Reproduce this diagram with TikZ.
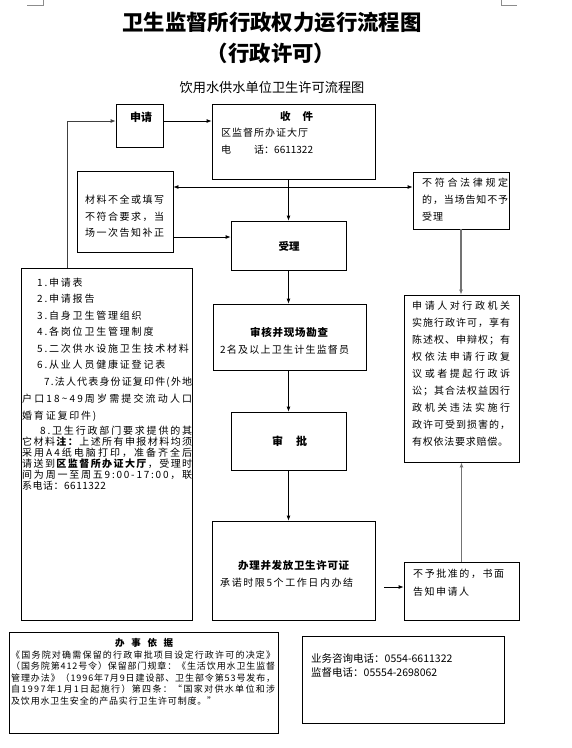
\documentclass[tikz,border=0pt]{standalone}
\usepackage{fontspec}
\setmainfont{Noto Sans CJK SC}
\usetikzlibrary{arrows.meta}
\newskip\sprgap
\def\spr#1{\sprA#1\relax}
\def\sprA#1{#1\sprB}
\def\sprB#1{%
  \ifx\relax#1\let\sprN\relax\else
    \ifx\bfseries#1\bfseries\else\ifx\mdseries#1\mdseries\else\hskip\sprgap#1\fi\fi
    \let\sprN\sprB
  \fi\sprN}
\newcommand\jl[2]{\hbox to #1{\sprgap=0pt plus 1fil\relax\spr{#2}}}
\newcommand\lsp[2]{\hbox{\sprgap=#1\relax\spr{#2}}}
\tikzset{
  box/.style={draw, line width=0.8pt, inner sep=0pt},
  txt/.style={inner sep=0pt, anchor=west},
  fa/.style={font=\fontsize{10}{12}\selectfont},
  fb/.style={font=\fontsize{10.5}{12}\selectfont\bfseries},
  fs/.style={font=\fontsize{9}{11}\selectfont},
  arr/.style={-{Latex[length=5pt,width=4pt]}, line width=0.8pt},
  arrtwo/.style={{Latex[length=5pt,width=4pt]}-{Latex[length=5pt,width=4pt]}, line width=0.8pt},
  garr/.style={-{Latex[length=5pt,width=4pt]}, line width=1.2pt, draw=black!55},
}
\begin{document}
\begin{tikzpicture}[x=1pt,y=-1pt]
\useasboundingbox (0,0) rectangle (572,748);
% page corner marks
\draw[black!45, line width=0.5pt] (27,5) -- (43,5) -- (43,0);
\draw[black!45, line width=0.5pt] (501,0) -- (501,5) -- (517,5);
% titles
\node[inner sep=0pt, font=\fontsize{21.4}{24}\selectfont\bfseries] (t1) at (272,22) {卫生监督所行政权力运行流程图};
\node[inner sep=0pt, font=\fontsize{21.4}{24}\selectfont\bfseries] (t2) at (271,53) {（行政许可）};
\node[inner sep=0pt, font=\fontsize{13.2}{15}\selectfont] (t3) at (272,87) {饮用水供水单位卫生许可流程图};
% boxes
\node[box, minimum width=47pt, minimum height=43pt] (sq) at (139.5,125.5) {};
\node[box, minimum width=163pt, minimum height=75pt] (sj) at (293.5,141.5) {};
\node[box, minimum width=96pt, minimum height=81pt] (cl) at (125,211.5) {};
\node[box, minimum width=115pt, minimum height=49pt] (sl) at (288.5,245.5) {};
\node[box, minimum width=96pt, minimum height=57pt] (bf) at (461,200.5) {};
\node[box, minimum width=153pt, minimum height=66pt] (sh) at (289.5,337) {};
\node[box, minimum width=115pt, minimum height=58pt] (sp) at (288.5,441) {};
\node[box, minimum width=163pt, minimum height=99pt] (bl) at (293.5,570.5) {};
\node[box, minimum width=115pt, minimum height=58pt] (by) at (461.5,591) {};
\node[box, minimum width=115pt, minimum height=167pt] (sr) at (461.5,378.5) {};
\node[box, minimum width=171pt, minimum height=352pt] (ls) at (106.5,444) {};
\node[box, minimum width=269pt, minimum height=101pt] (yj) at (143.5,682.5) {};
\node[box, minimum width=202pt, minimum height=87pt] (ph) at (403,679.5) {};
% texts: 申请
\node[txt, font=\fontsize{11}{12}\selectfont\bfseries] (tsq) at (130,117) {申请};
% 收件
\node[txt, fb] (tsj1) at (280,117) {\jl{33pt}{收件}};
\node[txt, fa] (tsj2) at (221,133) {\jl{87pt}{区监督所办证大厅}};
\node[txt, fa] (tsj3) at (221,150) {电\hspace{23pt}话：6611322};
% 材料
\node[txt, fa] (tcl1) at (85,200) {\jl{79pt}{材料不全或填写}};
\node[txt, fa] (tcl2) at (85,217) {\jl{79pt}{不符合要求，当}};
\node[txt, fa] (tcl3) at (85,233) {\jl{79pt}{场一次告知补正}};
% 受理
\node[inner sep=0pt, fb] (tsl) at (289,246) {受理};
% 不符合
\node[txt, fa] (tbf1) at (422,183) {\jl{86pt}{不符合法律规定}};
\node[txt, fa] (tbf2) at (422,200) {\jl{86pt}{的，当场告知不予}};
\node[txt, fa] (tbf3) at (422,217) {\lsp{1pt}{受理}};
% 审核
\node[txt, fb] (tsh1) at (250,332) {\jl{78pt}{审核并现场勘查}};
\node[txt, fa] (tsh2) at (220,350) {\jl{129pt}{2名及以上卫生计生监督员}};
% 审批
\node[txt, font=\fontsize{11}{12}\selectfont\bfseries] (tsp) at (272,441) {\jl{35pt}{审批}};
% 办理
\node[txt, fb] (tbl1) at (238,566) {\jl{111pt}{办理并发放卫生许可证}};
\node[txt, fa] (tbl2) at (220,583) {\jl{133pt}{承诺时限5个工作日内办结}};
% 不予批准
\node[txt, fa] (tby1) at (413,574) {\jl{91pt}{不予批准的，书面}};
\node[txt, fa] (tby2) at (413,592) {\jl{56pt}{告知申请人}};
% 申请人
\node[txt, fa] (tsr1) at (412,306) {\jl{98pt}{申请人对行政机关}};
\node[txt, fa] (tsr2) at (412,323) {\jl{98pt}{实施行政许可，享有}};
\node[txt, fa] (tsr3) at (412,340) {\jl{98pt}{陈述权、申辩权；有}};
\node[txt, fa] (tsr4) at (412,357) {\jl{98pt}{权依法申请行政复}};
\node[txt, fa] (tsr5) at (412,374) {\jl{98pt}{议或者提起行政诉}};
\node[txt, fa] (tsr6) at (412,391) {\jl{98pt}{讼；其合法权益因行}};
\node[txt, fa] (tsr7) at (412,408) {\jl{98pt}{政机关违法实施行}};
\node[txt, fa] (tsr8) at (412,425) {\jl{98pt}{政许可受到损害的，}};
\node[txt, fa] (tsr9) at (412,442) {\jl{96pt}{有权依法要求赔偿。}};
% list
\node[txt, fa] (tl1) at (37,283) {\lsp{1.8pt}{1.申请表}};
\node[txt, fa] (tl2) at (37,299) {\lsp{1.8pt}{2.申请报告}};
\node[txt, fa] (tl3) at (37,316) {\lsp{1.8pt}{3.自身卫生管理组织}};
\node[txt, fa] (tl4) at (37,332) {\lsp{1.8pt}{4.各岗位卫生管理制度}};
\node[txt, fa] (tl5) at (37,349) {\lsp{1.8pt}{5.二次供水设施卫生技术材料}};
\node[txt, fa] (tl6) at (37,365) {\lsp{1.8pt}{6.从业人员健康证登记表}};
\node[txt, fa] (tl7) at (44,382) {\jl{148pt}{7.法人代表身份证复印件(外地}};
\node[txt, fa] (tl8) at (22,399) {\jl{170pt}{户口18\textasciitilde 49周岁需提交流动人口}};
\node[txt, fa] (tl9) at (22,416) {\lsp{1.8pt}{婚育证复印件)}};
\node[txt, fa] (tl10) at (40,431) {\jl{152pt}{8.卫生行政部门要求提供的其}};
\node[txt, fa] (tl11) at (22,442) {\jl{170pt}{它材料\bfseries 注：\mdseries 上述所有申报材料均须}};
\node[txt, fa] (tl12) at (22,453) {\jl{170pt}{采用A4纸电脑打印，准备齐全后}};
\node[txt, fa] (tl13) at (22,464) {\jl{170pt}{请送到\bfseries 区监督所办证大厅\mdseries ，受理时}};
\node[txt, fa] (tl14) at (22,475) {\jl{170pt}{间为周一至周五9:00-17:00，联}};
\node[txt, fa] (tl15) at (22,486) {\lsp{0.5pt}{系电话：6611322}};
% 办事依据
\node[txt, font=\fontsize{9.5}{11}\selectfont\bfseries] (ty0) at (115,643) {\jl{58pt}{办事依据}};
\node[txt, fs] (ty1) at (11,655) {\jl{264pt}{《国务院对确需保留的行政审批项目设定行政许可的决定》}};
\node[txt, fs] (ty2) at (11,666.5) {\jl{264pt}{（国务院第412号令）保留部门规章：《生活饮用水卫生监督}};
\node[txt, fs] (ty3) at (11,678) {\jl{264pt}{管理办法》（1996年7月9日建设部、卫生部令第53号发布，}};
\node[txt, fs] (ty4) at (11,689.5) {\jl{264pt}{自1997年1月1日起施行）第四条：“国家对供水单位和涉}};
\node[txt, fs] (ty5) at (11,701) {\lsp{0.8pt}{及饮用水卫生安全的产品实行卫生许可制度。”}};
% phones
\node[txt, font=\fontsize{10.5}{12}\selectfont] (tph1) at (311,659) {业务咨询电话：0554-6611322};
\node[txt, font=\fontsize{10.5}{12}\selectfont] (tph2) at (311,672) {监督电话：05554-2698062};
% connectors
\coordinate (ya) at (67,121);
\coordinate (yb) at (0,187);
\coordinate (yc) at (0,237);
\coordinate (yd) at (384,587);
\draw[arr, draw=black!75] (ls.north -| ya) -- (ya) -- (sq.west |- ya);
\draw[arr] (sq.east |- ya) -- (sj.west |- ya);
\draw[arrtwo] (cl.east |- yb) -- (bf.west |- yb);
\draw[arr] (sj.south -| sl.north) -- (sl.north);
\draw[arr] (cl.east |- yc) -- (sl.west |- yc);
\draw[arr] (sl.south) -- (sl.south |- sh.north);
\draw[arr] (sp.north |- sh.south) -- (sp.north);
\draw[arr] (sp.south) -- (sp.south |- bl.north);
\draw[garr] (bf.south) -- (bf.south |- sr.north);
\draw[garr] (by.north) -- (by.north |- sr.south);
\draw[arr] (yd) -- (by.west |- yd);
\end{tikzpicture}
\end{document}
